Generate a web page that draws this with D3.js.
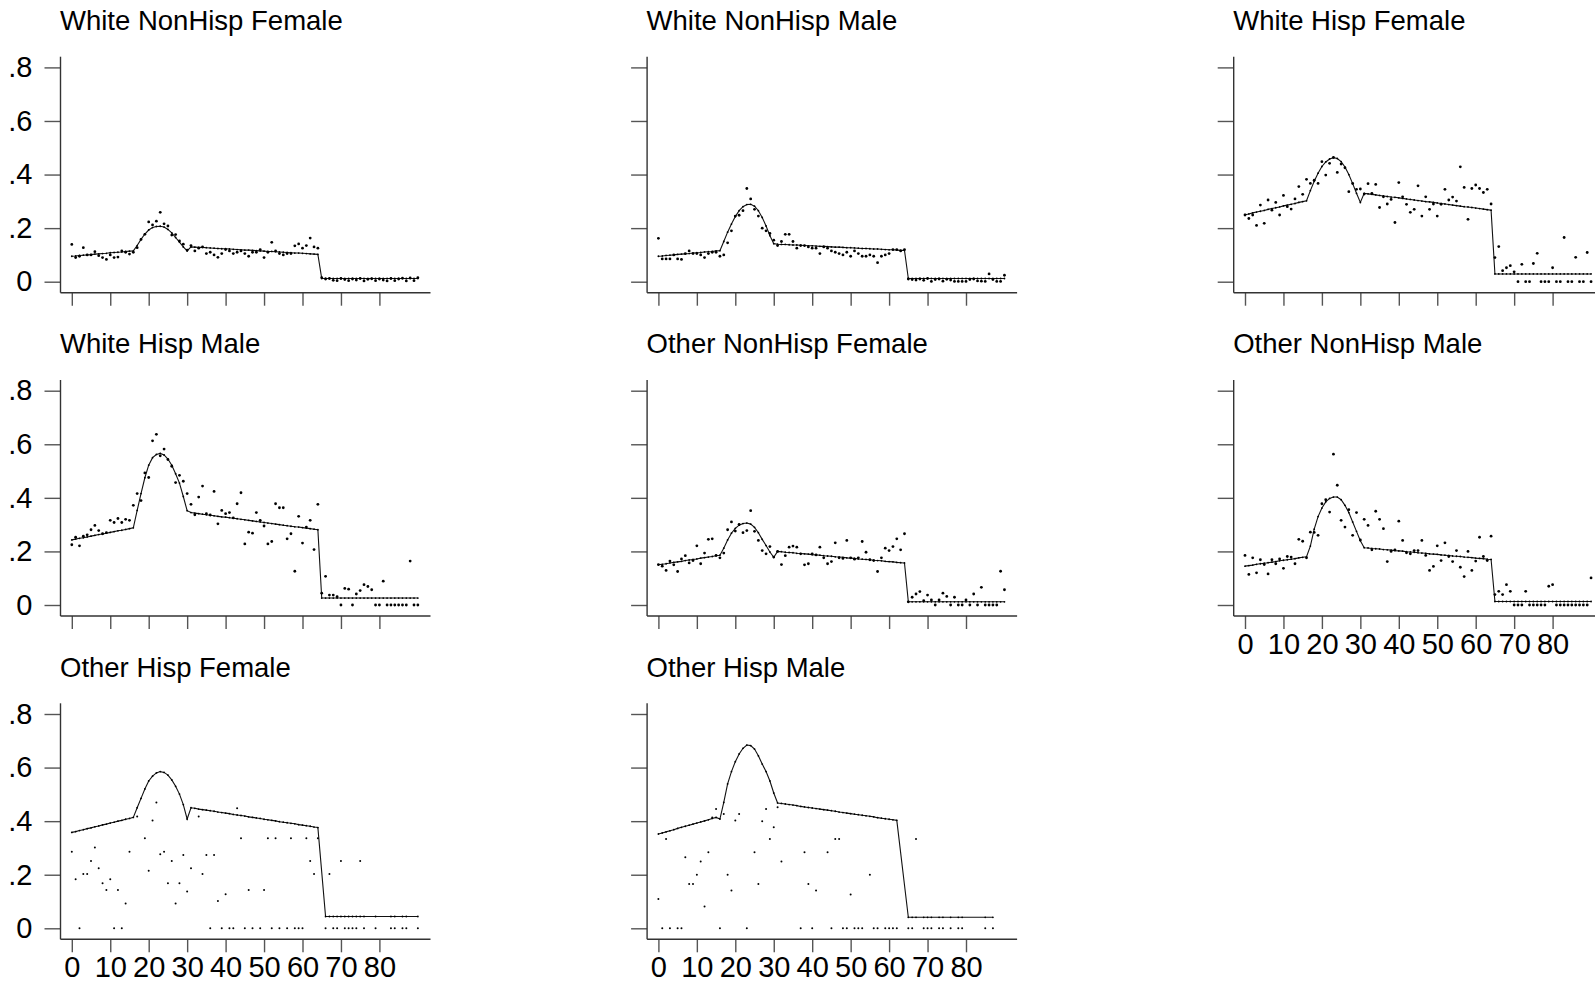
<!DOCTYPE html>
<html>
<head>
<meta charset="utf-8">
<script src="https://cdn.jsdelivr.net/npm/d3@7"></script>
<style>
body { margin: 0; background: #fff; }
svg { display: block; font-family: "Liberation Sans", Arial, sans-serif; }
</style>
</head>
<body>
<script>
// ages on the x axis
var ages = [0,1,2,3,4,5,6,7,8,9,10,11,12,13,14,15,16,17,18,19,20,21,22,23,24,25,26,27,28,29,
  30,31,32,33,34,35,36,37,38,39,40,41,42,43,44,45,46,47,48,49,50,51,52,53,54,55,56,57,58,59,
  60,61,62,63,64,65,66,67,68,69,70,71,72,73,74,75,76,77,78,79,80,81,82,83,84,85,86,87,88,89,90];

var titles = ["White NonHisp Female", "White NonHisp Male", "White Hisp Female",
  "White Hisp Male", "Other NonHisp Female", "Other NonHisp Male",
  "Other Hisp Female", "Other Hisp Male"];

var yTicks = [0, 0.2, 0.4, 0.6, 0.8];
var yTickLabels = ["0", ".2", ".4", ".6", ".8"];
var xTicks = [0, 10, 20, 30, 40, 50, 60, 70, 80];

// White NonHisp Female
var fitWNF = [0.095,0.096,0.098,0.099,0.100,0.101,0.103,0.104,0.105,0.106,0.108,0.109,0.110,0.111,0.113,0.114,0.115,
  0.135,0.158,0.178,0.193,0.202,0.206,0.207,0.204,0.195,0.182,0.165,0.148,0.130,0.115,
  0.130,0.129,0.128,0.128,0.127,0.126,0.125,0.124,0.123,0.123,0.122,0.121,0.120,0.119,0.118,0.118,0.117,
  0.116,0.115,0.114,0.113,0.113,0.112,0.111,0.110,0.109,0.108,0.107,0.107,0.106,0.105,0.104,0.103,0.102,
  0.012,0.012,0.012,0.012,0.012,0.012,0.012,0.012,0.012,0.012,0.012,0.012,0.012,
  0.012,0.012,0.012,0.012,0.012,0.012,0.012,0.012,0.012,0.012,0.012,0.012,0.012];
var obsWNF = [0.139,0.090,0.095,0.127,0.100,0.100,0.112,0.097,0.090,0.083,
  0.100,0.090,0.092,0.115,0.110,0.103,0.110,0.127,0.158,0.177,
  0.223,0.212,0.226,0.259,0.216,0.208,0.174,0.176,0.152,0.140,
  0.118,0.135,0.115,0.125,0.130,0.105,0.110,0.100,0.091,0.105,
  0.120,0.115,0.105,0.110,0.115,0.105,0.095,0.110,0.110,0.120,
  0.090,0.110,0.147,0.115,0.105,0.100,0.105,0.105,0.134,0.141,
  0.125,0.135,0.163,0.130,0.125,
  0.015,0.010,0.012,0.005,0.004,0.012,0.008,0.004,0.010,0.006,
  0.012,0.003,0.009,0.011,0.004,0.010,0.006,0.003,0.012,0.004,
  0.010,0.013,0.003,0.014,0.004,0.015];

// White NonHisp Male
var fitWNM = [0.095,0.096,0.098,0.099,0.100,0.102,0.103,0.104,0.105,0.107,0.108,0.109,0.111,0.112,0.113,0.115,0.116,
  0.150,0.185,0.215,0.243,0.265,0.280,0.288,0.289,0.282,0.265,0.240,0.208,0.172,0.142,
  0.140,0.139,0.139,0.138,0.137,0.137,0.136,0.135,0.134,0.134,0.133,0.132,0.132,0.131,0.130,0.129,0.129,
  0.128,0.127,0.127,0.126,0.125,0.124,0.124,0.123,0.122,0.122,0.121,0.120,0.119,0.119,0.118,0.117,0.117,
  0.012,0.012,0.012,0.012,0.012,0.012,0.012,0.012,0.012,0.012,0.012,0.012,0.012,
  0.012,0.012,0.012,0.012,0.012,0.012,0.012,0.012,0.012,0.012,0.012,0.012,0.012];
var obsWNM = [0.162,0.085,0.085,0.085,0.100,0.085,0.083,0.105,0.115,0.105,
  0.105,0.100,0.090,0.105,0.110,0.110,0.095,0.100,0.145,0.190,
  0.245,0.248,0.265,0.348,0.309,0.270,0.245,0.200,0.190,0.180,
  0.155,0.135,0.150,0.177,0.177,0.150,0.125,0.135,0.135,0.130,
  0.125,0.125,0.105,0.130,0.125,0.115,0.110,0.105,0.100,0.110,
  0.095,0.115,0.105,0.095,0.095,0.100,0.095,0.071,0.095,0.100,
  0.105,0.120,0.120,0.115,0.120,
  0.010,0.008,0.006,0.010,0.005,0.012,0.001,0.008,0.010,0.002,
  0.009,0.006,0.001,0.001,0.001,0.001,0.008,0.010,0.003,0.002,
  0.001,0.029,0.008,0.001,0.001,0.024];

// White Hisp Female
var fitWHF = [0.250,0.253,0.257,0.260,0.263,0.266,0.270,0.273,0.276,0.279,0.283,0.286,0.289,0.292,0.296,0.299,0.302,
  0.340,0.375,0.405,0.430,0.447,0.458,0.463,0.460,0.448,0.428,0.400,0.366,0.330,0.296,
  0.330,0.328,0.326,0.324,0.322,0.320,0.318,0.316,0.315,0.313,0.311,0.309,0.307,0.305,0.303,0.301,0.299,
  0.298,0.296,0.294,0.292,0.290,0.288,0.286,0.284,0.282,0.280,0.279,0.277,0.275,0.273,0.271,0.269,0.267,
  0.029,0.029,0.029,0.029,0.029,0.029,0.029,0.029,0.029,0.029,0.029,0.029,0.029,
  0.029,0.029,0.029,0.029,0.029,0.029,0.029,0.029,0.029,0.029,0.029,0.029,0.029];
var obsWHF = [0.249,0.236,0.249,0.210,0.286,0.218,0.305,0.267,0.296,0.249,
  0.322,0.280,0.271,0.309,0.355,0.326,0.382,0.367,0.379,0.367,
  0.448,0.398,0.442,0.464,0.408,0.439,0.425,0.336,0.367,0.345,
  0.346,0.327,0.366,0.330,0.363,0.277,0.317,0.290,0.307,0.221,
  0.370,0.317,0.289,0.259,0.270,0.358,0.245,0.317,0.270,0.290,
  0.245,0.289,0.345,0.305,0.316,0.301,0.429,0.352,0.233,0.348,
  0.361,0.348,0.333,0.345,0.290,
  0.090,0.131,0.041,0.052,0.060,0.037,0.000,0.065,0.000,0.000,
  0.068,0.106,0.000,0.000,0.000,0.052,0.000,0.000,0.165,0.000,
  0.000,0.091,0.000,0.000,0.109,0.000];

// White Hisp Male
var fitWHM = [0.243,0.246,0.249,0.251,0.254,0.257,0.260,0.263,0.265,0.268,0.271,0.274,0.277,0.279,0.282,0.285,0.288,
  0.353,0.416,0.475,0.522,0.550,0.562,0.566,0.560,0.545,0.522,0.490,0.455,0.405,0.352,
  0.345,0.343,0.341,0.339,0.337,0.335,0.333,0.331,0.329,0.328,0.326,0.324,0.322,0.320,0.318,0.316,0.314,
  0.312,0.310,0.308,0.306,0.304,0.302,0.300,0.298,0.296,0.294,0.292,0.291,0.289,0.287,0.285,0.283,0.281,
  0.026,0.026,0.026,0.026,0.026,0.026,0.026,0.026,0.026,0.026,0.026,0.026,0.026,
  0.026,0.026,0.026,0.026,0.026,0.026,0.026,0.026,0.026,0.026,0.026,0.026,0.026];
var obsWHM = [0.225,0.253,0.221,0.257,0.262,0.281,0.297,0.278,0.266,0.270,
  0.316,0.308,0.323,0.308,0.320,0.316,0.372,0.416,0.390,0.493,
  0.476,0.613,0.637,0.557,0.582,0.543,0.518,0.457,0.484,0.462,
  0.416,0.376,0.337,0.403,0.444,0.341,0.336,0.424,0.303,0.353,
  0.341,0.345,0.325,0.378,0.419,0.228,0.272,0.268,0.345,0.316,
  0.295,0.228,0.237,0.378,0.363,0.363,0.247,0.266,0.126,0.331,
  0.231,0.291,0.316,0.207,0.376,
  0.044,0.107,0.037,0.037,0.031,0.000,0.062,0.059,0.000,0.041,
  0.054,0.076,0.069,0.057,0.000,0.000,0.089,0.000,0.000,0.000,
  0.000,0.000,0.000,0.164,0.000,0.000];

// Other NonHisp Female
var fitONF = [0.150,0.152,0.154,0.157,0.159,0.161,0.163,0.166,0.168,0.170,0.172,0.175,0.177,0.179,0.181,0.184,0.186,
  0.212,0.243,0.268,0.286,0.298,0.304,0.306,0.302,0.290,0.270,0.245,0.222,0.198,0.178,
  0.200,0.199,0.197,0.196,0.195,0.193,0.192,0.191,0.190,0.188,0.187,0.186,0.184,0.183,0.182,0.180,0.179,
  0.178,0.176,0.175,0.174,0.172,0.171,0.170,0.169,0.167,0.166,0.165,0.163,0.162,0.161,0.159,0.158,0.157,
  0.012,0.012,0.012,0.012,0.012,0.012,0.012,0.012,0.012,0.012,0.012,0.012,0.012,
  0.012,0.012,0.012,0.012,0.012,0.012,0.012,0.012,0.012,0.012,0.012,0.012,0.012];
var obsONF = [0.151,0.145,0.129,0.164,0.150,0.125,0.172,0.184,0.157,0.166,
  0.221,0.154,0.194,0.245,0.247,0.185,0.176,0.194,0.281,0.310,
  0.276,0.301,0.270,0.278,0.352,0.275,0.241,0.203,0.191,0.218,
  0.179,0.200,0.151,0.184,0.216,0.220,0.216,0.191,0.150,0.154,
  0.191,0.187,0.216,0.176,0.154,0.162,0.232,0.176,0.174,0.241,
  0.176,0.171,0.176,0.237,0.197,0.169,0.166,0.125,0.176,0.212,
  0.203,0.218,0.247,0.206,0.266,
  0.012,0.029,0.041,0.050,0.016,0.037,0.019,0.000,0.019,0.044,
  0.032,0.000,0.029,0.000,0.000,0.019,0.000,0.041,0.000,0.066,
  0.000,0.000,0.000,0.000,0.126,0.057];

// Other NonHisp Male
var fitONM = [0.145,0.147,0.149,0.152,0.154,0.156,0.158,0.160,0.162,0.165,0.167,0.169,0.171,0.173,0.176,0.178,0.180,
  0.220,0.283,0.330,0.362,0.385,0.398,0.403,0.403,0.393,0.372,0.345,0.310,0.275,0.240,
  0.214,0.213,0.211,0.210,0.209,0.207,0.206,0.205,0.203,0.202,0.201,0.199,0.198,0.197,0.195,0.194,0.193,
  0.191,0.190,0.189,0.187,0.186,0.185,0.183,0.182,0.181,0.179,0.178,0.177,0.175,0.174,0.173,0.171,0.170,
  0.013,0.013,0.013,0.013,0.013,0.013,0.013,0.013,0.013,0.013,0.013,0.013,0.013,
  0.013,0.013,0.013,0.013,0.013,0.013,0.013,0.013,0.013,0.013,0.013,0.013,0.013];
var obsONM = [0.185,0.114,0.176,0.120,0.169,0.151,0.116,0.169,0.154,0.172,
  0.137,0.181,0.179,0.154,0.245,0.238,0.176,0.272,0.271,0.260,
  0.378,0.393,0.347,0.563,0.447,0.316,0.291,0.356,0.260,0.345,
  0.243,0.320,0.297,0.206,0.350,0.320,0.285,0.162,0.200,0.206,
  0.313,0.241,0.195,0.191,0.203,0.203,0.241,0.185,0.129,0.144,
  0.221,0.166,0.232,0.181,0.162,0.203,0.141,0.106,0.200,0.129,
  0.164,0.253,0.181,0.166,0.257,
  0.039,0.051,0.039,0.076,0.051,0.000,0.000,0.000,0.051,0.000,
  0.000,0.000,0.000,0.000,0.070,0.076,0.000,0.000,0.000,0.000,
  0.000,0.000,0.000,0.000,0.000,0.101];

// Other Hisp Female (null = no observation at that age)
var fitOHF = [0.358,0.361,0.365,0.368,0.372,0.375,0.379,0.382,0.386,0.389,0.393,0.396,0.400,0.403,0.407,0.410,0.414,
  0.450,0.485,0.520,0.550,0.568,0.580,0.585,0.582,0.572,0.554,0.530,0.501,0.462,0.408,
  0.450,0.448,0.445,0.443,0.441,0.439,0.437,0.434,0.432,0.430,0.428,0.425,0.423,0.421,0.419,0.416,0.414,
  0.412,0.410,0.407,0.405,0.403,0.401,0.398,0.396,0.394,0.392,0.390,0.387,0.385,0.383,0.381,0.378,0.376,
  null,0.044,0.044,0.044,0.044,0.044,0.044,0.044,0.044,0.044,0.044,0.044,null,
  null,0.044,null,null,null,0.044,0.044,null,0.044,0.044,null,null,0.044];
var obsOHF = [0.286,0.183,0.000,0.203,0.203,0.251,0.302,0.224,0.168,0.143,
  0.183,0.000,0.143,0.000,0.093,0.286,null,0.417,null,0.336,
  0.215,0.402,0.470,0.276,0.286,0.168,0.251,0.093,0.168,0.274,
  0.137,0.224,null,0.417,0.203,0.274,0.000,0.274,0.102,0.000,
  0.127,0.000,0.000,0.448,0.336,0.000,0.143,0.000,null,0.000,
  0.143,0.336,0.000,0.336,0.000,null,0.000,0.336,0.000,0.000,
  0.000,0.336,0.251,0.203,0.336,
  null,0.000,0.203,0.000,0.000,0.251,0.000,0.000,0.000,0.000,
  0.251,0.000,null,null,0.000,null,null,null,0.000,0.000,
  null,0.000,0.000,null,null,0.000];

// Other Hisp Male
var fitOHM = [0.352,0.356,0.360,0.364,0.368,0.373,0.377,0.381,0.385,0.389,0.393,0.397,0.401,0.405,0.410,0.414,0.408,
  0.470,0.539,0.585,0.622,0.651,0.672,0.684,0.682,0.669,0.644,0.613,0.585,0.550,0.505,
  0.468,0.466,0.464,0.462,0.460,0.458,0.455,0.453,0.451,0.449,0.447,0.445,0.443,0.441,0.439,0.437,
  0.434,0.432,0.430,0.428,0.426,0.424,0.422,0.420,0.418,0.416,0.413,0.411,0.409,0.407,0.405,0.403,
  null,null,
  0.041,0.041,0.041,null,0.041,0.041,0.041,null,0.041,0.041,null,0.041,null,
  0.041,0.041,null,null,null,null,null,0.041,null,0.041,null,null,null];
var obsOHM = [0.109,0.000,0.333,0.000,null,0.000,0.000,0.265,0.165,0.165,
  0.200,0.249,0.081,0.284,0.414,0.445,0.000,0.427,0.200,0.141,
  0.402,0.427,null,0.000,null,0.284,0.165,0.400,0.445,0.333,
  0.377,0.452,0.249,null,null,null,null,0.000,0.284,0.165,
  0.000,0.141,null,null,0.284,0.000,0.333,0.333,0.000,0.000,
  0.126,0.000,0.000,0.000,null,0.200,0.000,0.000,null,0.000,
  0.000,0.000,0.000,null,null,
  0.000,0.000,0.333,null,0.000,0.000,0.000,null,0.000,0.000,
  null,0.000,null,0.000,0.000,null,null,null,null,null,
  0.000,null,0.000,null,null,null];

var panels = [
  {title: titles[0], fit: fitWNF, obs: obsWNF, dot: 1.4},
  {title: titles[1], fit: fitWNM, obs: obsWNM, dot: 1.4},
  {title: titles[2], fit: fitWHF, obs: obsWHF, dot: 1.4},
  {title: titles[3], fit: fitWHM, obs: obsWHM, dot: 1.4},
  {title: titles[4], fit: fitONF, obs: obsONF, dot: 1.4},
  {title: titles[5], fit: fitONM, obs: obsONM, dot: 1.4},
  {title: titles[6], fit: fitOHF, obs: obsOHF, dot: 1.0},
  {title: titles[7], fit: fitOHM, obs: obsOHM, dot: 1.0}
];

var width = 1595, height = 982;
var svg = d3.select("body").append("svg")
    .attr("width", width)
    .attr("height", height);

var titleSize = 27.5,
    tickSize = 29,
    axisColor = "#333";

panels.forEach(function(p, i) {
  var col = i % 3,
      row = Math.floor(i / 3);
  var left = 60.5 + col * 586.6,
      zeroY = 281.7 + row * 323.3;

  var x = d3.scaleLinear().domain([0, 80]).range([left + 11.3, left + 11.3 + 307.6]);
  var y = d3.scaleLinear().domain([0, 0.8]).range([zeroY, zeroY - 214.3]);
  var axisY = zeroY + 11;

  var g = svg.append("g");

  // title
  g.append("text")
    .attr("x", left - 0.5)
    .attr("y", zeroY - 251.6)
    .style("font-size", titleSize + "px")
    .style("fill", "#000")
    .text(p.title);

  // y axis
  var yAxis = d3.axisLeft(y)
    .tickValues(yTicks)
    .tickSize(16)
    .tickPadding(12)
    .tickFormat(function(d, k) { return col === 0 ? yTickLabels[k] : ""; });
  var ya = g.append("g")
    .attr("transform", "translate(" + left + ",0)")
    .call(yAxis);
  ya.select(".domain").remove();
  ya.selectAll("line").attr("stroke", "#555").attr("stroke-width", 1.4);
  ya.selectAll("text").style("font-size", tickSize + "px").style("font-family", "inherit").attr("fill", "#000");

  // x axis
  var showX = (i >= 5);
  var xAxis = d3.axisBottom(x)
    .tickValues(xTicks)
    .tickSize(13)
    .tickPadding(4.5)
    .tickFormat(function(d) { return showX ? d : ""; });
  var xa = g.append("g")
    .attr("transform", "translate(0," + axisY + ")")
    .call(xAxis);
  xa.select(".domain").remove();
  xa.selectAll("line").attr("stroke", "#555").attr("stroke-width", 1.4);
  xa.selectAll("text").style("font-size", tickSize + "px").style("font-family", "inherit").attr("fill", "#000");

  // axis lines
  g.append("line")
    .attr("x1", left).attr("x2", left)
    .attr("y1", zeroY - 225).attr("y2", axisY)
    .attr("stroke", axisColor).attr("stroke-width", 1.4);
  g.append("line")
    .attr("x1", left).attr("x2", left + 370)
    .attr("y1", axisY).attr("y2", axisY)
    .attr("stroke", axisColor).attr("stroke-width", 1.4);

  // fitted line
  var fitPts = ages.map(function(a, k) { return {age: a, v: p.fit[k]}; })
    .filter(function(d) { return d.v !== null; });
  var line = d3.line()
    .x(function(d) { return x(d.age); })
    .y(function(d) { return y(d.v); });
  g.append("path")
    .datum(fitPts)
    .attr("d", line)
    .attr("fill", "none")
    .attr("stroke", "#111")
    .attr("stroke-width", 1.1);
  g.selectAll(".fitdot")
    .data(fitPts)
    .enter().append("circle")
    .attr("class", "fitdot")
    .attr("cx", function(d) { return x(d.age); })
    .attr("cy", function(d) { return y(d.v); })
    .attr("r", 0.9)
    .attr("fill", "#000");

  // observed points
  var obsPts = ages.map(function(a, k) { return {age: a, v: p.obs[k]}; })
    .filter(function(d) { return d.v !== null; });
  g.selectAll(".obsdot")
    .data(obsPts)
    .enter().append("circle")
    .attr("class", "obsdot")
    .attr("cx", function(d) { return x(d.age); })
    .attr("cy", function(d) { return y(d.v); })
    .attr("r", p.dot)
    .attr("fill", "#000");
});
</script>
</body>
</html>
